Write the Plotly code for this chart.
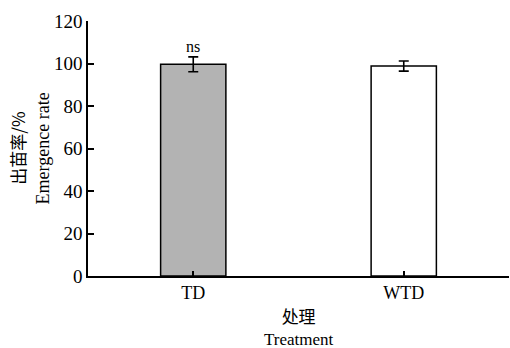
import plotly.graph_objects as go

categories = ["TD", "WTD"]
emergence = [99.6, 98.8]
errors = [3.5, 2.4]
colors = ["#b3b3b3", "#ffffff"]
sig_labels = ["ns", ""]
y_ticks = [0, 20, 40, 60, 80, 100, 120]

xpos = list(range(len(categories)))
serif = "Liberation Serif, Times New Roman, serif"
cjk = "Noto Sans CJK SC"

fig = go.Figure()
fig.add_trace(go.Bar(
    x=xpos, y=emergence, width=0.31,
    marker=dict(color=colors, line=dict(color="black", width=1.5)),
    error_y=dict(type="data", array=errors, visible=True, color="black",
                 thickness=1.6, width=5),
    hoverinfo="skip",
))

for x, y, e, s in zip(xpos, emergence, errors, sig_labels):
    if s:
        fig.add_annotation(x=x, y=y + e, text=s, showarrow=False, yanchor="bottom",
                           yshift=0, font=dict(family=serif, size=16, color="black"))

fig.add_annotation(xref="paper", yref="paper", x=-0.168, y=0.5, text="出苗率/%",
                   textangle=-90, showarrow=False, xanchor="center", yanchor="middle",
                   font=dict(family=cjk, size=17, color="black"))
fig.add_annotation(xref="paper", yref="paper", x=-0.107, y=0.5, text="Emergence rate",
                   textangle=-90, showarrow=False, xanchor="center", yanchor="middle",
                   font=dict(family=serif, size=18, color="black"))
fig.add_annotation(xref="paper", yref="paper", x=0.5, y=-0.196,
                   text=f"<span style='font-family:{cjk};font-size:17px'>处理</span><br>Treatment",
                   showarrow=False, xanchor="center", yanchor="middle",
                   font=dict(family=serif, size=17, color="black"))

fig.update_layout(
    width=510, height=348,
    margin=dict(l=88, r=1, t=21, b=72, autoexpand=False),
    paper_bgcolor="white", plot_bgcolor="white",
    showlegend=False,
    xaxis=dict(range=[-0.5, 1.5], tickvals=xpos + [1.5], ticktext=categories + [""],
               showline=True, linecolor="black", linewidth=1.5, automargin=False,
               ticks="inside", ticklen=5, tickwidth=1.5, tickcolor="black",
               showgrid=False, zeroline=False,
               tickfont=dict(family=serif, size=18, color="black")),
    yaxis=dict(range=[0, 120], tickvals=y_ticks, automargin=False,
               showline=True, linecolor="black", linewidth=1.5,
               ticks="inside", ticklen=6, tickwidth=1.5, tickcolor="black",
               showgrid=False, zeroline=False,
               tickfont=dict(family=serif, size=19, color="black")),
)

fig.write_html("out.html", config={"displayModeBar": False},
               post_script="document.body.style.margin='0';document.body.style.overflow='hidden';")
